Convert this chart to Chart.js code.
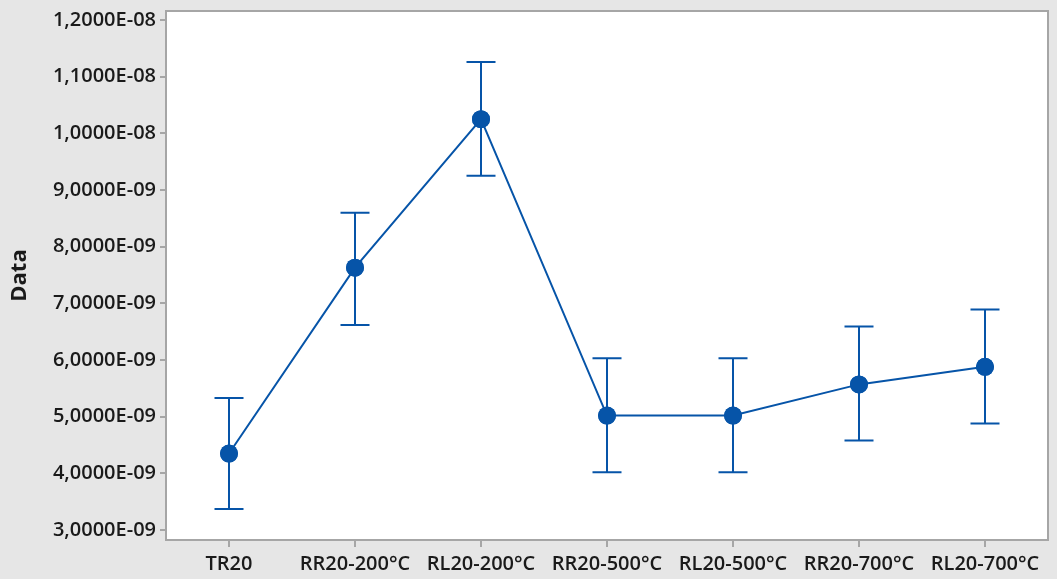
<!DOCTYPE html>
<html><head><meta charset="utf-8">
<script src="https://cdn.jsdelivr.net/npm/chart.js@4"></script>
<style>html,body{margin:0;padding:0;background:#e6e6e6;}#wrap{width:1057px;height:579px;}</style>
</head><body><div id="wrap"><canvas id="c" width="1057" height="579"></canvas></div>
<script>
const categories = ["TR20","RR20-200°C","RL20-200°C","RR20-500°C","RL20-500°C","RR20-700°C","RL20-700°C"];
const means = [4.35e-9, 7.63e-9, 1.025e-8, 5.02e-9, 5.02e-9, 5.57e-9, 5.88e-9];
const upper = [5.33e-9, 8.60e-9, 1.126e-8, 6.03e-9, 6.03e-9, 6.59e-9, 6.89e-9];
const lower = [3.37e-9, 6.62e-9, 9.25e-9, 4.02e-9, 4.02e-9, 4.58e-9, 4.88e-9];
const yTicks = [3e-9,4e-9,5e-9,6e-9,7e-9,8e-9,9e-9,1e-8,1.1e-8,1.2e-8];

const BLUE = '#0654a8';
const AXIS = '#a6a6a6';
const FONT = "'Open Sans', 'Noto Sans', sans-serif";

function fmt(v){
  let s = v.toExponential(4);
  let [m,e] = s.split('e');
  let sign = e[0]==='-' ? '-' : '+';
  let n = Math.abs(parseInt(e,10));
  return m.replace('.',',') + 'E' + sign + String(n).padStart(2,'0');
}

const frame = {
  id:'frame',
  beforeDraw(chart){
    const {ctx, chartArea:a} = chart;
    ctx.save();
    ctx.fillStyle = '#e6e6e6';
    ctx.fillRect(0,0,chart.width,chart.height);
    ctx.fillStyle = '#ffffff';
    ctx.fillRect(a.left,a.top,a.right-a.left,a.bottom-a.top);
    ctx.restore();
  },
  afterDraw(chart){
    const {ctx, chartArea:a} = chart;
    ctx.save();
    ctx.strokeStyle = AXIS; ctx.lineWidth = 2;
    ctx.strokeRect(a.left,a.top,a.right-a.left,a.bottom-a.top);
    ctx.restore();
  }
};

const errBars = {
  id:'errBars',
  afterDatasetsDraw(chart){
    const {ctx} = chart;
    const xs = chart.scales.x, ys = chart.scales.y;
    ctx.save();
    ctx.strokeStyle = BLUE; ctx.lineWidth = 2;
    for(let i=0;i<categories.length;i++){
      const x = xs.getPixelForValue(i);
      const yt = ys.getPixelForValue(upper[i]);
      const yb = ys.getPixelForValue(lower[i]);
      ctx.beginPath();
      ctx.moveTo(x,yt); ctx.lineTo(x,yb);
      ctx.moveTo(x-14.5,yt); ctx.lineTo(x+14.5,yt);
      ctx.moveTo(x-14.5,yb); ctx.lineTo(x+14.5,yb);
      ctx.stroke();
    }
    const meta = chart.getDatasetMeta(0);
    meta.data.forEach(p=>{
      ctx.beginPath(); ctx.fillStyle = BLUE;
      ctx.arc(p.x,p.y,9,0,Math.PI*2); ctx.fill();
    });
    ctx.restore();
  }
};

new Chart(document.getElementById('c'), {
  type:'line',
  data:{ labels:categories, datasets:[{
    data:means, borderColor:BLUE, backgroundColor:BLUE, borderWidth:2,
    pointRadius:9, pointBackgroundColor:BLUE, pointBorderWidth:0, tension:0
  }]},
  options:{
    responsive:false, animation:false,
    layout:{padding:{top:11,right:8,left:0,bottom:0}},
    plugins:{legend:{display:false}, tooltip:{enabled:false}},
    scales:{
      x:{
        offset:true,
        grid:{display:true, drawOnChartArea:false, drawTicks:true, tickLength:7, color:AXIS, lineWidth:2, offset:false},
        border:{display:true,color:AXIS,width:2},
        ticks:{color:'#1a1a1a', font:{family:FONT,size:20,weight:'600'}, padding:5, maxRotation:0, autoSkip:false},
        afterFit(s){ s.height = 39; }
      },
      y:{
        min:2.824e-9, max:1.2159e-8,
        afterBuildTicks(s){ s.ticks = yTicks.map(v=>({value:v})); },
        grid:{display:true, drawOnChartArea:false, drawTicks:true, tickLength:6, color:AXIS, lineWidth:2},
        border:{display:true,color:AXIS,width:2},
        ticks:{color:'#1a1a1a', font:{family:FONT,size:20,weight:'600',lineHeight:1.0}, padding:4, callback:(v)=>fmt(v)},
        title:{display:true, text:'Data', color:'#1a1a1a', font:{family:FONT,size:22,weight:'700'}, padding:{top:7,bottom:6}},
        afterFit(s){ s.width = 166; s.paddingTop = 0; s.paddingBottom = 0; }
      }
    }
  },
  plugins:[frame, errBars]
});
</script></body></html>
